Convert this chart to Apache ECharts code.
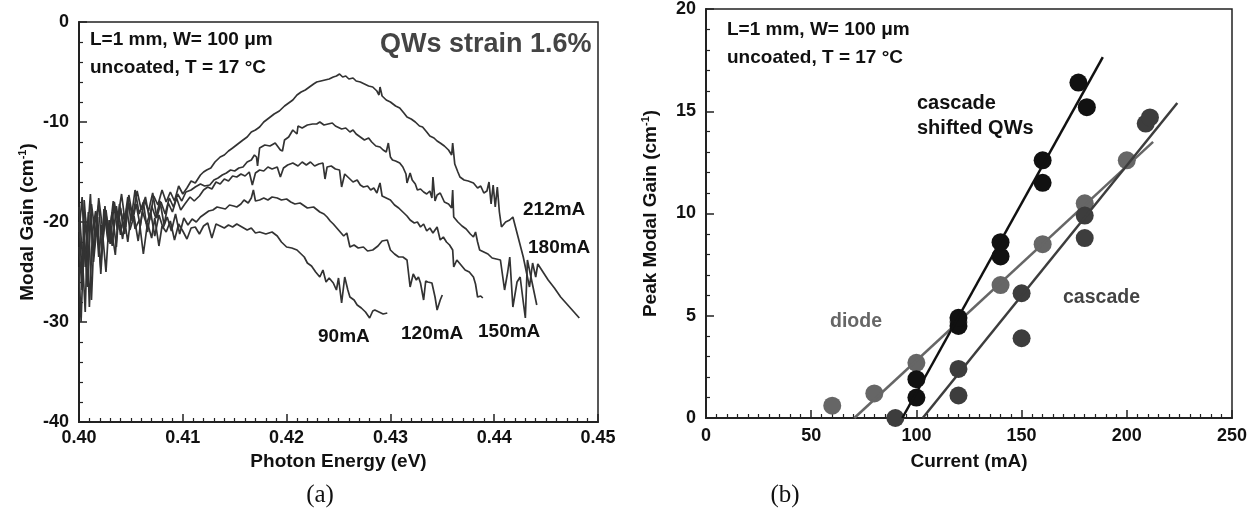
<!DOCTYPE html>
<html>
<head>
<meta charset="utf-8">
<script src="https://cdn.jsdelivr.net/npm/echarts@6/dist/echarts.min.js"></script>
<style>html,body{margin:0;padding:0;background:#fff}#c{width:1260px;height:518px}</style>
</head>
<body>
<div id="c"></div>
<script>
// ---------- Panel (a): modal gain spectra [photon energy (eV), gain (cm^-1)] ----------
const gain212 = [[0.4000,-22.5],[0.4003,-26.8],[0.4006,-19.5],[0.4009,-23.8],[0.4012,-18.2],[0.4016,-21.5],[0.4019,-17.6],[0.4023,-20.9],[0.4026,-18.8],[0.4030,-22.2],[0.4034,-18.0],[0.4037,-19.9],[0.4041,-17.2],[0.4045,-20.5],[0.4048,-18.1],[0.4052,-19.4],[0.4056,-16.9],[0.4060,-18.8],[0.4064,-17.5],[0.4068,-19.8],[0.4072,-17.4],[0.4076,-18.3],[0.4080,-16.8],[0.4084,-18.0],[0.4088,-17.0],[0.4092,-17.9],[0.4096,-16.4],[0.4100,-17.2],[0.4104,-16.6],[0.4108,-15.9],[0.4112,-16.1],[0.4117,-15.3],[0.4120,-15.0],[0.4123,-14.8],[0.4127,-14.6],[0.4131,-14.0],[0.4136,-13.5],[0.4140,-13.3],[0.4144,-12.9],[0.4148,-12.6],[0.4153,-12.2],[0.4158,-11.8],[0.4162,-11.5],[0.4166,-11.0],[0.4170,-10.8],[0.4174,-10.5],[0.4178,-10.0],[0.4183,-9.6],[0.4188,-9.2],[0.4193,-8.9],[0.4198,-8.4],[0.4202,-8.1],[0.4206,-7.8],[0.4210,-7.3],[0.4214,-7.0],[0.4218,-6.8],[0.4222,-6.5],[0.4226,-6.2],[0.4229,-6.0],[0.4233,-5.9],[0.4237,-5.8],[0.4241,-5.7],[0.4245,-5.5],[0.4248,-5.4],[0.4251,-5.2],[0.4254,-5.5],[0.4257,-5.4],[0.4260,-5.7],[0.4264,-5.6],[0.4267,-5.9],[0.4271,-6.0],[0.4275,-6.2],[0.4279,-6.4],[0.4283,-6.5],[0.4287,-6.9],[0.4289,-7.3],[0.4290,-6.5],[0.4292,-7.4],[0.4296,-7.8],[0.4300,-8.0],[0.4305,-8.4],[0.4309,-8.6],[0.4313,-9.1],[0.4316,-9.5],[0.4320,-9.7],[0.4324,-10.0],[0.4328,-10.4],[0.4331,-10.5],[0.4335,-11.0],[0.4338,-11.4],[0.4342,-11.6],[0.4345,-11.9],[0.4348,-12.1],[0.4352,-12.4],[0.4356,-12.8],[0.4359,-13.3],[0.4360,-12.1],[0.4362,-14.2],[0.4365,-15.0],[0.4367,-15.5],[0.4371,-15.8],[0.4375,-15.9],[0.4380,-16.1],[0.4384,-16.6],[0.4387,-16.4],[0.4390,-17.1],[0.4393,-16.9],[0.4395,-16.0],[0.4397,-18.2],[0.4399,-16.3],[0.4401,-18.5],[0.4403,-16.5],[0.4405,-19.0],[0.4407,-20.5],[0.4411,-20.0],[0.4415,-19.8],[0.4418,-19.5],[0.4423,-21.5],[0.4428,-23.5],[0.4431,-25.0],[0.4434,-26.5],[0.4437,-24.1],[0.4440,-25.5],[0.4442,-24.2],[0.4447,-25.0],[0.4452,-25.8],[0.4458,-26.6],[0.4464,-27.5],[0.4470,-28.2],[0.4476,-28.9],[0.4482,-29.6]];

const gain180 = [[0.4000,-21.0],[0.4003,-17.5],[0.4006,-24.5],[0.4009,-19.0],[0.4012,-27.8],[0.4015,-20.2],[0.4019,-18.3],[0.4022,-22.8],[0.4026,-19.2],[0.4029,-21.6],[0.4033,-17.9],[0.4037,-20.8],[0.4040,-18.6],[0.4044,-21.2],[0.4048,-17.3],[0.4052,-19.7],[0.4055,-18.2],[0.4059,-20.4],[0.4063,-17.8],[0.4067,-18.9],[0.4071,-17.1],[0.4075,-19.6],[0.4079,-18.0],[0.4083,-19.2],[0.4087,-17.6],[0.4091,-18.5],[0.4095,-17.2],[0.4099,-17.9],[0.4103,-17.0],[0.4108,-16.8],[0.4112,-16.5],[0.4117,-16.2],[0.4121,-16.4],[0.4126,-16.3],[0.4130,-15.8],[0.4134,-15.6],[0.4138,-15.3],[0.4142,-15.1],[0.4146,-14.8],[0.4150,-14.9],[0.4154,-14.6],[0.4158,-14.5],[0.4162,-14.0],[0.4166,-13.8],[0.4169,-13.3],[0.4171,-13.5],[0.4172,-14.4],[0.4174,-12.6],[0.4179,-12.3],[0.4184,-12.4],[0.4189,-12.1],[0.4194,-12.8],[0.4196,-12.9],[0.4198,-11.8],[0.4202,-11.5],[0.4206,-10.8],[0.4210,-11.2],[0.4211,-10.4],[0.4215,-10.6],[0.4220,-10.3],[0.4225,-10.2],[0.4229,-10.2],[0.4232,-10.0],[0.4236,-10.3],[0.4240,-10.2],[0.4244,-10.1],[0.4247,-10.4],[0.4249,-10.5],[0.4253,-10.7],[0.4257,-10.6],[0.4261,-11.0],[0.4264,-10.8],[0.4267,-11.2],[0.4271,-11.5],[0.4275,-11.8],[0.4279,-11.6],[0.4282,-12.0],[0.4286,-12.4],[0.4290,-12.5],[0.4293,-12.8],[0.4296,-13.0],[0.4298,-12.1],[0.4300,-13.5],[0.4302,-13.8],[0.4305,-13.9],[0.4309,-14.1],[0.4312,-14.5],[0.4315,-15.2],[0.4316,-16.1],[0.4319,-15.1],[0.4321,-15.8],[0.4324,-16.2],[0.4326,-16.8],[0.4329,-16.7],[0.4332,-17.0],[0.4335,-17.2],[0.4338,-16.9],[0.4340,-17.6],[0.4341,-15.5],[0.4343,-17.9],[0.4345,-17.3],[0.4348,-17.1],[0.4352,-18.0],[0.4356,-18.2],[0.4359,-18.6],[0.4360,-16.8],[0.4361,-19.5],[0.4365,-20.0],[0.4369,-20.4],[0.4373,-20.7],[0.4377,-21.2],[0.4380,-21.5],[0.4382,-21.0],[0.4384,-22.0],[0.4386,-22.8],[0.4390,-23.0],[0.4394,-23.2],[0.4398,-23.6],[0.4402,-23.7],[0.4406,-23.8],[0.4410,-26.8],[0.4413,-25.0],[0.4415,-23.5],[0.4418,-28.5],[0.4422,-26.0],[0.4425,-25.5],[0.4428,-28.0],[0.4430,-29.6],[0.4432,-23.8],[0.4436,-25.8],[0.4441,-28.3]];

const gain150 = [[0.4000,-18.5],[0.4003,-23.0],[0.4006,-29.0],[0.4008,-21.5],[0.4011,-17.2],[0.4014,-24.0],[0.4018,-19.5],[0.4021,-25.2],[0.4025,-18.4],[0.4028,-21.8],[0.4032,-19.0],[0.4036,-22.5],[0.4039,-18.2],[0.4043,-20.6],[0.4047,-17.5],[0.4050,-19.9],[0.4054,-16.8],[0.4058,-19.2],[0.4062,-18.0],[0.4066,-21.0],[0.4070,-18.4],[0.4074,-19.6],[0.4078,-17.9],[0.4082,-20.3],[0.4086,-18.1],[0.4090,-19.0],[0.4094,-17.6],[0.4098,-18.8],[0.4102,-18.2],[0.4107,-17.5],[0.4111,-17.9],[0.4116,-17.4],[0.4120,-16.8],[0.4124,-16.5],[0.4128,-16.7],[0.4132,-16.0],[0.4136,-16.2],[0.4140,-15.7],[0.4144,-15.9],[0.4148,-15.4],[0.4152,-15.5],[0.4156,-15.2],[0.4160,-15.4],[0.4164,-15.0],[0.4167,-16.3],[0.4170,-15.1],[0.4174,-14.8],[0.4178,-14.9],[0.4182,-14.5],[0.4186,-14.7],[0.4191,-14.5],[0.4194,-15.5],[0.4197,-14.6],[0.4201,-14.3],[0.4206,-14.1],[0.4211,-14.4],[0.4215,-14.0],[0.4219,-14.3],[0.4223,-14.0],[0.4227,-14.4],[0.4231,-14.2],[0.4235,-14.1],[0.4237,-15.7],[0.4239,-14.5],[0.4243,-14.4],[0.4247,-14.7],[0.4251,-14.8],[0.4253,-16.5],[0.4256,-15.2],[0.4260,-15.6],[0.4264,-16.0],[0.4268,-15.8],[0.4271,-16.3],[0.4274,-16.5],[0.4278,-16.4],[0.4281,-16.8],[0.4284,-16.6],[0.4287,-17.1],[0.4289,-16.4],[0.4290,-16.1],[0.4292,-17.4],[0.4296,-17.6],[0.4300,-17.8],[0.4304,-18.3],[0.4308,-18.6],[0.4312,-19.0],[0.4316,-19.4],[0.4319,-19.8],[0.4323,-20.1],[0.4326,-20.0],[0.4329,-20.5],[0.4332,-20.2],[0.4335,-20.9],[0.4338,-20.6],[0.4341,-21.1],[0.4343,-20.8],[0.4345,-20.5],[0.4348,-21.8],[0.4351,-21.5],[0.4354,-22.0],[0.4357,-22.3],[0.4360,-22.8],[0.4361,-24.5],[0.4364,-23.8],[0.4368,-24.3],[0.4372,-24.8],[0.4376,-25.0],[0.4380,-25.5],[0.4382,-26.2],[0.4384,-27.5],[0.4387,-27.4],[0.4389,-27.6]];

const gain120 = [[0.4000,-24.5],[0.4002,-30.0],[0.4005,-20.8],[0.4008,-26.5],[0.4011,-19.3],[0.4014,-23.4],[0.4017,-20.0],[0.4021,-24.6],[0.4024,-18.7],[0.4028,-22.0],[0.4031,-20.5],[0.4035,-23.3],[0.4038,-19.0],[0.4042,-21.7],[0.4046,-18.6],[0.4049,-20.8],[0.4053,-19.4],[0.4057,-21.9],[0.4061,-18.9],[0.4065,-20.2],[0.4069,-19.0],[0.4073,-21.4],[0.4077,-19.3],[0.4081,-20.6],[0.4085,-19.5],[0.4089,-20.9],[0.4093,-19.2],[0.4097,-21.2],[0.4101,-19.6],[0.4105,-20.3],[0.4109,-19.7],[0.4113,-20.0],[0.4117,-19.5],[0.4121,-19.2],[0.4125,-18.9],[0.4129,-18.8],[0.4133,-18.5],[0.4137,-18.6],[0.4141,-18.7],[0.4145,-18.3],[0.4149,-18.4],[0.4152,-18.5],[0.4156,-18.2],[0.4159,-17.8],[0.4163,-18.1],[0.4166,-17.6],[0.4168,-16.8],[0.4170,-17.9],[0.4174,-17.8],[0.4178,-17.6],[0.4182,-17.8],[0.4186,-17.5],[0.4191,-17.6],[0.4195,-17.8],[0.4200,-17.7],[0.4204,-18.0],[0.4208,-18.2],[0.4213,-18.1],[0.4220,-18.6],[0.4226,-18.5],[0.4232,-19.0],[0.4236,-19.2],[0.4239,-19.5],[0.4242,-19.9],[0.4245,-20.2],[0.4250,-20.8],[0.4255,-21.4],[0.4258,-21.1],[0.4261,-22.5],[0.4265,-22.3],[0.4269,-22.6],[0.4274,-22.5],[0.4278,-22.9],[0.4283,-22.8],[0.4288,-22.4],[0.4292,-21.9],[0.4297,-21.8],[0.4300,-22.8],[0.4304,-23.2],[0.4308,-23.5],[0.4312,-23.5],[0.4316,-23.8],[0.4319,-26.5],[0.4322,-25.2],[0.4325,-25.8],[0.4327,-25.5],[0.4329,-26.1],[0.4332,-27.8],[0.4334,-25.9],[0.4336,-26.0],[0.4340,-26.1],[0.4343,-27.5],[0.4345,-28.8],[0.4348,-27.8],[0.4350,-27.3]];

const gain90 = [[0.4000,-20.0],[0.4003,-25.5],[0.4005,-17.8],[0.4008,-22.0],[0.4010,-28.5],[0.4013,-21.0],[0.4016,-18.9],[0.4019,-23.5],[0.4022,-20.3],[0.4026,-25.0],[0.4029,-19.8],[0.4032,-22.4],[0.4036,-18.4],[0.4040,-21.3],[0.4043,-19.1],[0.4047,-22.0],[0.4051,-18.6],[0.4054,-20.7],[0.4058,-19.8],[0.4062,-23.2],[0.4066,-20.1],[0.4070,-21.6],[0.4073,-19.6],[0.4077,-22.4],[0.4080,-20.4],[0.4084,-21.0],[0.4088,-19.9],[0.4092,-21.8],[0.4096,-20.2],[0.4100,-20.9],[0.4104,-21.7],[0.4108,-20.6],[0.4112,-20.5],[0.4116,-21.2],[0.4120,-20.4],[0.4124,-20.1],[0.4128,-21.6],[0.4132,-20.2],[0.4136,-20.4],[0.4140,-20.6],[0.4144,-20.3],[0.4148,-20.5],[0.4152,-20.2],[0.4157,-20.5],[0.4162,-20.8],[0.4166,-20.6],[0.4170,-21.1],[0.4174,-21.0],[0.4180,-21.2],[0.4186,-21.0],[0.4191,-21.4],[0.4195,-22.0],[0.4200,-22.5],[0.4205,-22.6],[0.4210,-22.8],[0.4213,-23.1],[0.4217,-23.5],[0.4220,-24.1],[0.4224,-24.4],[0.4228,-25.0],[0.4232,-25.5],[0.4235,-24.8],[0.4238,-26.0],[0.4241,-25.6],[0.4245,-26.1],[0.4248,-26.8],[0.4250,-25.6],[0.4253,-28.1],[0.4256,-25.5],[0.4259,-26.8],[0.4261,-27.5],[0.4265,-27.8],[0.4268,-28.3],[0.4272,-28.6],[0.4276,-29.0],[0.4280,-29.6],[0.4283,-28.9],[0.4285,-28.8],[0.4289,-29.0],[0.4293,-29.2],[0.4297,-29.1]];

const curveNames = ['90mA','120mA','150mA','180mA','212mA'];

// ---------- Panel (b): peak modal gain vs current ----------
const currentShifted = [100,100,120,120,140,140,160,160,177,181];
const gainShifted    = [1.0,1.9,4.5,4.9,7.9,8.6,11.5,12.6,16.4,15.2];
const currentDiode   = [60,80,100,120,140,160,180,200];
const gainDiode      = [0.6,1.2,2.7,4.7,6.5,8.5,10.5,12.6];
const currentCascade = [90,120,120,150,150,180,180,209,211];
const gainCascade    = [0.0,1.1,2.4,3.9,6.1,8.8,9.9,14.4,14.7];
// linear fits (end points of drawn lines)
const fitShiftedX = [93.3,188.6]; const fitShiftedY = [0,17.65];
const fitDiodeX   = [70.5,212.5]; const fitDiodeY   = [0,13.5];
const fitCascadeX = [103,224];    const fitCascadeY = [0,15.4];

const xTicksA = [0.40,0.41,0.42,0.43,0.44,0.45];
const yTicksA = [-40,-30,-20,-10,0];
const xTicksB = [0,50,100,150,200,250];
const yTicksB = [0,5,10,15,20];

const zip = (xs, ys) => xs.map((x, i) => [x, ys[i]]);

const FONT = '"Liberation Sans", Arial, sans-serif';
const axisCommon = {
  axisLine: {show: true, onZero: false, lineStyle: {color: '#222', width: 2}},
  axisTick: {show: true, inside: true, length: 8, lineStyle: {color: '#222', width: 1.5}},
  minorTick: {show: true, length: 4, lineStyle: {color: '#222', width: 1.2}},
  splitLine: {show: false},
  axisLabel: {color: '#111', fontFamily: FONT, fontWeight: 'bold', fontSize: 18},
  nameTextStyle: {color: '#111', fontFamily: FONT, fontWeight: 'bold', fontSize: 19}
};
const supRich = {
  t: {fontFamily: FONT, fontWeight: 'bold', fontSize: 19, color: '#111', lineHeight: 22},
  s: {fontFamily: FONT, fontWeight: 'bold', fontSize: 11, color: '#111', verticalAlign: 'top', lineHeight: 22, padding: [0,0,9,0]}
};

const lineA = (name, data) => ({
  name, type: 'line', xAxisIndex: 0, yAxisIndex: 0, data,
  showSymbol: false, symbol: 'none', silent: true, animation: false,
  lineStyle: {color: '#333', width: 1.7}
});

const txt = (text, x, y, size, fill) => ({
  type: 'text', x, y,
  style: {text, font: 'bold ' + size + 'px ' + FONT, fill, align: 'left', verticalAlign: 'middle'}
});

const chart = echarts.init(document.getElementById('c'), null, {renderer: 'canvas'});
chart.setOption({
  backgroundColor: '#fff',
  animation: false,
  grid: [
    {left: 79, top: 22, right: 662, bottom: 96, show: true, borderColor: '#222', borderWidth: 1.5, backgroundColor: 'transparent'},
    {left: 706, top: 7, right: 28, bottom: 100, show: true, borderColor: '#222', borderWidth: 1.5, backgroundColor: 'transparent'}
  ],
  xAxis: [
    Object.assign({}, axisCommon, {
      gridIndex: 0, type: 'value', min: xTicksA[0], max: xTicksA[xTicksA.length-1], interval: 0.01,
      minorTick: Object.assign({}, axisCommon.minorTick, {splitNumber: 10}),
      axisLabel: Object.assign({}, axisCommon.axisLabel, {margin: 7, formatter: v => v.toFixed(2)}),
      name: 'Photon Energy (eV)', nameLocation: 'middle', nameGap: 29
    }),
    Object.assign({}, axisCommon, {
      gridIndex: 1, type: 'value', min: xTicksB[0], max: xTicksB[xTicksB.length-1], interval: 50,
      minorTick: Object.assign({}, axisCommon.minorTick, {splitNumber: 10}),
      axisLabel: Object.assign({}, axisCommon.axisLabel, {margin: 9}),
      name: 'Current (mA)', nameLocation: 'middle', nameGap: 34
    })
  ],
  yAxis: [
    Object.assign({}, axisCommon, {
      gridIndex: 0, type: 'value', min: yTicksA[0], max: yTicksA[yTicksA.length-1], interval: 10,
      minorTick: Object.assign({}, axisCommon.minorTick, {splitNumber: 5}),
      axisLabel: Object.assign({}, axisCommon.axisLabel, {margin: 10}),
      name: '{t|Modal Gain (cm}{s|-1}{t|)}', nameLocation: 'middle', nameGap: 40,
      nameTextStyle: Object.assign({}, axisCommon.nameTextStyle, {rich: supRich})
    }),
    Object.assign({}, axisCommon, {
      gridIndex: 1, type: 'value', min: yTicksB[0], max: yTicksB[yTicksB.length-1], interval: 5,
      minorTick: Object.assign({}, axisCommon.minorTick, {splitNumber: 5}),
      axisLabel: Object.assign({}, axisCommon.axisLabel, {margin: 10}),
      name: '{t|Peak Modal Gain (cm}{s|-1}{t|)}', nameLocation: 'middle', nameGap: 44,
      nameTextStyle: Object.assign({}, axisCommon.nameTextStyle, {rich: supRich})
    })
  ],
  series: [
    lineA(curveNames[0], gain90),
    lineA(curveNames[1], gain120),
    lineA(curveNames[2], gain150),
    lineA(curveNames[3], gain180),
    lineA(curveNames[4], gain212),
    {name: 'diode', type: 'scatter', xAxisIndex: 1, yAxisIndex: 1, data: zip(currentDiode, gainDiode),
     symbolSize: 18, clip: true, itemStyle: {color: '#666', opacity: 1}, z: 2},
    {name: 'diode fit', type: 'line', xAxisIndex: 1, yAxisIndex: 1, data: zip(fitDiodeX, fitDiodeY),
     showSymbol: false, symbol: 'none', lineStyle: {color: '#666', width: 2.5}, z: 3},
    {name: 'cascade', type: 'scatter', xAxisIndex: 1, yAxisIndex: 1, data: zip(currentCascade, gainCascade),
     symbolSize: 18, clip: true, itemStyle: {color: '#3d3d3d', opacity: 1}, z: 4},
    {name: 'cascade fit', type: 'line', xAxisIndex: 1, yAxisIndex: 1, data: zip(fitCascadeX, fitCascadeY),
     showSymbol: false, symbol: 'none', lineStyle: {color: '#3d3d3d', width: 2.5}, z: 5},
    {name: 'cascade shifted QWs', type: 'scatter', xAxisIndex: 1, yAxisIndex: 1, data: zip(currentShifted, gainShifted),
     symbolSize: 18, clip: true, itemStyle: {color: '#111', opacity: 1}, z: 6},
    {name: 'shifted fit', type: 'line', xAxisIndex: 1, yAxisIndex: 1, data: zip(fitShiftedX, fitShiftedY),
     showSymbol: false, symbol: 'none', lineStyle: {color: '#111', width: 2.5}, z: 7}
  ],
  graphic: [
    txt('L=1 mm, W= 100 μm', 90, 40, 19, '#111'),
    txt('uncoated, T = 17 °C', 90, 68, 19, '#111'),
    txt('QWs strain 1.6%', 380, 45, 27, '#444'),
    txt('212mA', 523, 210, 19, '#111'),
    txt('180mA', 528, 248, 19, '#111'),
    txt('90mA', 318, 337, 19, '#111'),
    txt('120mA', 401, 334, 19, '#111'),
    txt('150mA', 478, 332, 19, '#111'),
    txt('L=1 mm, W= 100 μm', 727, 30, 19, '#111'),
    txt('uncoated, T = 17 °C', 727, 58, 19, '#111'),
    txt('cascade', 917, 103, 20, '#111'),
    txt('shifted QWs', 917, 128, 20, '#111'),
    txt('diode', 830, 322, 19.5, '#666'),
    txt('cascade', 1063, 298, 19.5, '#444'),
    {type: 'text', x: 320, y: 495, style: {text: '(a)', font: '25px "Liberation Serif", "Times New Roman", serif', fill: '#111', align: 'center', verticalAlign: 'middle'}},
    {type: 'text', x: 785, y: 495, style: {text: '(b)', font: '25px "Liberation Serif", "Times New Roman", serif', fill: '#111', align: 'center', verticalAlign: 'middle'}}
  ]
});
</script>
</body>
</html>
